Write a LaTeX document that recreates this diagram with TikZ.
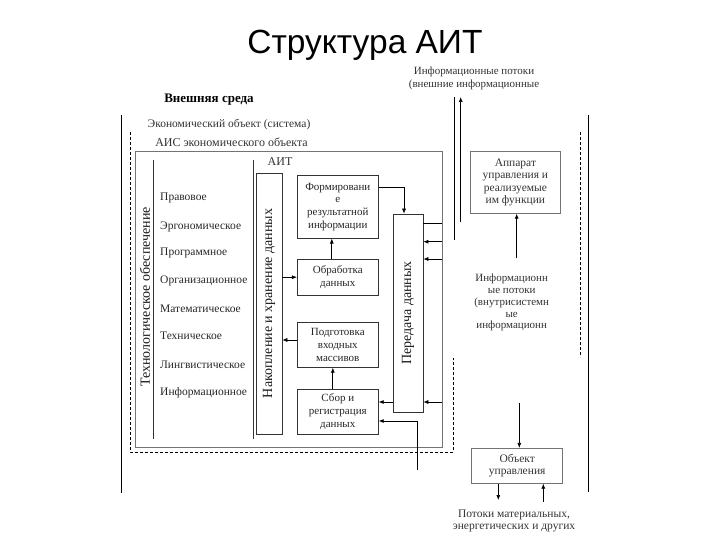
\documentclass[tikz,border=0pt]{standalone}
\usepackage{fontspec}
\setmainfont{Liberation Serif}
\newfontfamily\titlefont{Liberation Sans}
\usetikzlibrary{arrows.meta}
\begin{document}
\begin{tikzpicture}[x=1pt,y=-1pt,
  box/.style={draw=black!80, line width=0.7pt, align=center, inner sep=0pt, font=\fontsize{11}{12.7}\selectfont, text=black!85},
  gbox/.style={draw=black!55, line width=0.7pt, align=center, inner sep=0pt, font=\fontsize{11.5}{12.6}\selectfont, text=black!80},
  arr/.style={-{Latex[length=5pt,width=4pt]}, line width=0.7pt},
  ln/.style={line width=0.7pt},
  dsh/.style={dash pattern=on 3pt off 2pt, line width=0.6pt},
  lst/.style={anchor=west, font=\fontsize{11.5}{13}\selectfont, text=black!85, inner sep=0pt},
  lbl/.style={font=\fontsize{11}{12.5}\selectfont, text=black!80, inner sep=0pt, align=center},
  vlbl/.style={rotate=90, font=\fontsize{14}{16}\selectfont, text=black!90, inner sep=0pt},
]
\useasboundingbox (0,0) rectangle (720,540);

% title
\node[font=\titlefont\fontsize{33.5}{36}\selectfont] (title) at (365,45) {Структура АИТ};

% outer environment
\node[font=\bfseries\fontsize{13}{15}\selectfont, inner sep=0pt] (env) at (209,100) {Внешняя среда};
\draw[ln] (121,115) -- (121,493);
\draw[ln] (588,115) -- (588,492);

% economic object (dashed)
\node[lbl, font=\fontsize{11.5}{13}\selectfont] (econ) at (229,125) {Экономический объект (система)};
\draw[dsh] (130,132) -- (130,452) -- (453,452) -- (453,358);
\draw[dsh] (580,132) -- (580,357);

% AIS box
\node[lbl, font=\fontsize{12}{13}\selectfont] (aislbl) at (231.5,142.7) {АИС экономического объекта};
\node[draw=black!55, line width=0.7pt, minimum width=307, minimum height=296, inner sep=0pt] (ais) at (288.5,299) {};

% AIT
\node[lbl, font=\fontsize{12}{13}\selectfont] (aitlbl) at (280,162) {АИТ};
\draw[ln, black!80] (153,160) -- (153,439);
\draw[ln, black!80] (253,160) -- (253,439);
\node[vlbl] (tech) at (145,297) {Технологическое обеспечение};
\node[lst] (l1) at (160,198.3) {Правовое};
\node[lst] (l2) at (160,226.7) {Эргономическое};
\node[lst] (l3) at (160,253.3) {Программное};
\node[lst] (l4) at (160,281) {Организационное};
\node[lst] (l5) at (160,308.3) {Математическое};
\node[lst] (l6) at (160,336) {Техническое};
\node[lst] (l7) at (160,365) {Лингвистическое};
\node[lst] (l8) at (160,392.7) {Информационное};

% storage
\node[box, minimum width=26, minimum height=261] (nak) at (269,303.5) {};
\node[vlbl] (naklbl) at (nak.center) {Накопление и хранение данных};

% process boxes
\node[box, minimum width=81, minimum height=63] (form) at (337.8,206.7) {Формировани\\е\\результатной\\информации};
\node[box, minimum width=81, minimum height=35.7] (obr) at (337.8,277.2) {Обработка\\данных};
\node[box, minimum width=81, minimum height=45] (podg) at (337.8,344.8) {Подготовка\\входных\\массивов};
\node[box, minimum width=81, minimum height=45] (sbor) at (337.8,411.5) {Сбор и\\регистрация\\данных};

% transfer
\node[box, minimum width=30, minimum height=198] (pered) at (408,313) {};
\node[vlbl] (peredlbl) at (pered.center) {Передача данных};

% internal connectors
\draw[arr] (nak.east |- obr.west) -- (obr.west);
\draw[arr] ([xshift=-6pt]obr.north) -- ([xshift=-6pt]form.south);
\coordinate (pw) at ([yshift=4.8pt]podg.west);
\draw[arr] (pw) -- (nak.east |- pw);
\draw[arr] ([xshift=-5pt]sbor.north) -- ([xshift=-5pt]podg.south);
\draw[arr] ([yshift=19.4pt]form.east) -| ([xshift=-4pt]pered.north);

\draw[ln] (pered.east |- 0,223) -- (ais.east |- 0,223);
\draw[arr] (ais.east |- 0,241.7) -- (pered.east |- 0,241.7);
\draw[arr] (ais.east |- 0,259) -- (pered.east |- 0,259);
\draw[arr] (ais.east |- 0,402) -- (pered.east |- 0,402);
\draw[arr] (pered.west |- 0,402) -- (sbor.east |- 0,402);
\coordinate (c1) at (417,470);
\draw[arr] (c1) |- (sbor.east |- 0,421);

% external info flows
\node[lbl] (extinfo) at (474,78.5) {Информационные потоки\\(внешние информационные};
\coordinate (e1) at (454,240);
\coordinate (t1) at (454,97);
\coordinate (e2) at (460.7,222);
\coordinate (t2) at (460.7,97);
\draw[ln] (e1) -- (t1);
\draw[arr] (e2) -- (t2);

% control apparatus
\node[gbox, minimum width=89.3, minimum height=61.6] (app) at (515.4,182.5) {Аппарат\\управления и\\реализуемые\\им функции};
\coordinate (a1) at (516.7,258);
\draw[arr] (a1) -- (a1 |- app.south);

% internal info flows text
\node[lbl, font=\fontsize{11}{11.9}\selectfont] (intinfo) at (511.7,302.5) {Информационн\\ые потоки\\(внутрисистемн\\ые\\информационн};

% control object
\node[gbox, minimum width=91, minimum height=35] (obj) at (517.2,465.8) {Объект\\управления};
\coordinate (o1) at (519.3,403.3);
\draw[arr] (o1) -- (o1 |- obj.north);
\coordinate (o2) at (498.3,500);
\draw[arr] (o2 |- obj.south) -- (o2);
\coordinate (o3) at (543.3,501.7);
\draw[arr] (o3) -- (o3 |- obj.south);
\node[lbl, font=\fontsize{11.5}{12}\selectfont] (matflow) at (514,521) {Потоки материальных,\\энергетических и других};
\end{tikzpicture}
\end{document}
